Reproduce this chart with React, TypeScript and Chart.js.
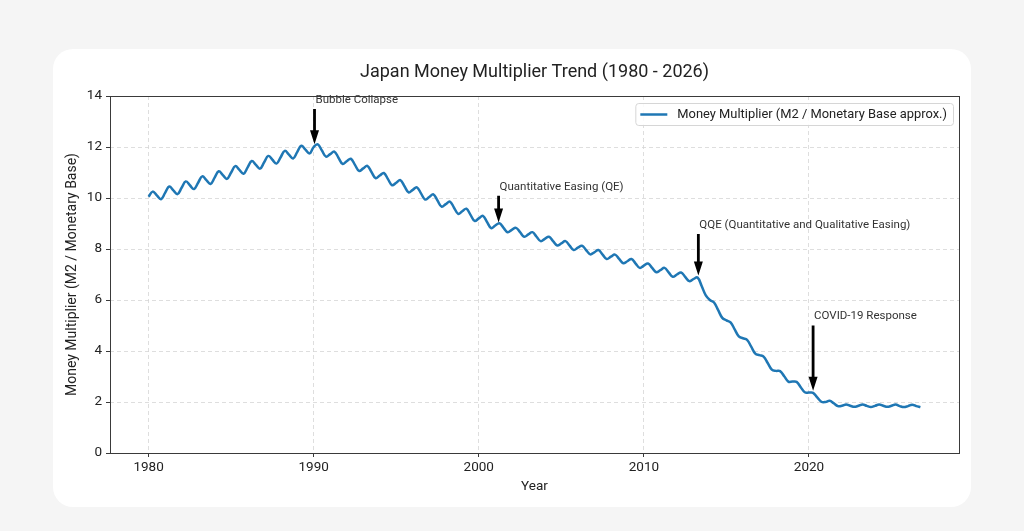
import React, { useEffect, useRef } from "react";
import { Chart, registerables } from "chart.js";

Chart.register(...registerables);

const chartTitle = "Japan Money Multiplier Trend (1980 - 2026)";
const seriesLabel = "Money Multiplier (M2 / Monetary Base approx.)";
const xAxisTitle = "Year";
const yAxisTitle = "Money Multiplier (M2 / Monetary Base)";

// quarterly readings, starting 1980.00, step 0.25 year
const startYear = 1980;
const stepYears = 0.25;

const values1980s = [
  10.05, 10.25, 10.1, 9.95,
  10.2, 10.45, 10.3, 10.15,
  10.4, 10.65, 10.5, 10.35,
  10.6, 10.85, 10.7, 10.55,
  10.8, 11.05, 10.9, 10.75,
  11.0, 11.25, 11.1, 10.95,
  11.2, 11.45, 11.3, 11.15,
  11.4, 11.65, 11.5, 11.35,
  11.6, 11.85, 11.7, 11.55,
  11.8, 12.05, 11.9, 11.75,
];

const values1990s = [
  12.0, 12.1, 11.86, 11.62,
  11.72, 11.82, 11.58, 11.34,
  11.44, 11.54, 11.3, 11.06,
  11.16, 11.26, 11.02, 10.78,
  10.88, 10.98, 10.74, 10.5,
  10.6, 10.7, 10.46, 10.22,
  10.32, 10.42, 10.18, 9.94,
  10.04, 10.14, 9.9, 9.66,
  9.76, 9.86, 9.62, 9.38,
  9.48, 9.58, 9.34, 9.1,
];

const values2000s = [
  9.2, 9.3, 9.06, 8.82,
  8.92, 9.01, 8.83, 8.66,
  8.75, 8.83, 8.66, 8.48,
  8.57, 8.66, 8.48, 8.31,
  8.4, 8.48, 8.31, 8.14,
  8.22, 8.31, 8.13, 7.96,
  8.05, 8.13, 7.96, 7.79,
  7.87, 7.96, 7.78, 7.61,
  7.7, 7.78, 7.61, 7.44,
  7.52, 7.61, 7.43, 7.26,
];

const values2010s = [
  7.35, 7.43, 7.26, 7.09,
  7.17, 7.26, 7.08, 6.91,
  7.0, 7.08, 6.91, 6.74,
  6.82, 6.88, 6.55, 6.18,
  6.0, 5.9, 5.6, 5.3,
  5.2, 5.12, 4.85, 4.57,
  4.5, 4.44, 4.17, 3.9,
  3.84, 3.78, 3.53, 3.27,
  3.22, 3.21, 3.01, 2.8,
  2.8, 2.79, 2.58, 2.38,
];

const values2020s = [
  2.37, 2.36, 2.18, 2.01,
  2.0, 2.05, 1.95, 1.84,
  1.85, 1.9, 1.85, 1.81,
  1.85, 1.9, 1.85, 1.8,
  1.85, 1.9, 1.85, 1.81,
  1.85, 1.9, 1.84, 1.8,
  1.84, 1.89, 1.84, 1.8,
];

const multiplier = [
  ...values1980s,
  ...values1990s,
  ...values2000s,
  ...values2010s,
  ...values2020s,
];
const years = multiplier.map((_, i) => startYear + i * stepYears);

const xTickYears = [1980, 1990, 2000, 2010, 2020];
const yTickValues = [0, 2, 4, 6, 8, 10, 12, 14];

const annotationLabels = [
  "Bubble Collapse",
  "Quantitative Easing (QE)",
  "QQE (Quantitative and Qualitative Easing)",
  "COVID-19 Response",
];
const annotationYears = [1990.05, 2001.2, 2013.3, 2020.25];
const annotationValues = [12.03, 8.96, 6.88, 2.36];
const annotationTextValues = [13.84, 10.44, 8.94, 5.35];

const FONT = "Roboto, 'DejaVu Sans', sans-serif";
const LINE_COLOR = "#1f77b4";

function drawArrow(ctx: CanvasRenderingContext2D, x: number, y0: number, y1: number) {
  const sw = 2.8;
  const hw = 9;
  const hl = 14;
  ctx.beginPath();
  ctx.moveTo(x - sw / 2, y0);
  ctx.lineTo(x - sw / 2, y1 - hl);
  ctx.lineTo(x - hw / 2, y1 - hl);
  ctx.lineTo(x, y1);
  ctx.lineTo(x + hw / 2, y1 - hl);
  ctx.lineTo(x + sw / 2, y1 - hl);
  ctx.lineTo(x + sw / 2, y0);
  ctx.closePath();
  ctx.fillStyle = "#000";
  ctx.fill();
}

const decorPlugin = {
  id: "decor",
  afterDatasetsDraw(chart: any) {
    const { ctx, chartArea, scales } = chart;
    const xs = scales.x;
    const ys = scales.y;
    const { left, right, top, bottom } = chartArea;
    ctx.save();

    // frame (spines)
    ctx.strokeStyle = "#3a3a3a";
    ctx.lineWidth = 1;
    ctx.setLineDash([]);
    ctx.strokeRect(Math.round(left) + 0.5, Math.round(top) + 0.5, Math.round(right - left), Math.round(bottom - top));

    // annotations
    ctx.font = `11.5px ${FONT}`;
    ctx.textAlign = "left";
    ctx.textBaseline = "middle";
    annotationLabels.forEach((label, i) => {
      const px = xs.getPixelForValue(annotationYears[i]);
      const py = ys.getPixelForValue(annotationValues[i]);
      const ty = ys.getPixelForValue(annotationTextValues[i]);
      drawArrow(ctx, px, ty + 9, py - 2);
      ctx.fillStyle = "#333";
      ctx.fillText(label, px + 1, ty);
    });

    // legend
    const ds = chart.data.datasets[0];
    ctx.font = `12.9px ${FONT}`;
    const textW = ctx.measureText(ds.label).width;
    const boxRight = right - 6;
    const boxTop = top + 7;
    const boxH = 22;
    const boxW = textW + 48;
    const boxLeft = boxRight - boxW;
    ctx.beginPath();
    ctx.roundRect(boxLeft + 0.5, boxTop + 0.5, boxW, boxH, 3);
    ctx.fillStyle = "rgba(255,255,255,0.85)";
    ctx.fill();
    ctx.strokeStyle = "#d6d6d6";
    ctx.lineWidth = 1;
    ctx.stroke();
    const cy = boxTop + boxH / 2 + 0.5;
    ctx.beginPath();
    ctx.moveTo(boxLeft + 5, cy);
    ctx.lineTo(boxLeft + 32, cy);
    ctx.strokeStyle = ds.borderColor;
    ctx.lineWidth = 2.5;
    ctx.stroke();
    ctx.fillStyle = "#222";
    ctx.textAlign = "left";
    ctx.textBaseline = "middle";
    ctx.fillText(ds.label, boxLeft + 42, cy);

    // title
    ctx.font = `18px ${FONT}`;
    ctx.textAlign = "center";
    ctx.textBaseline = "middle";
    ctx.fillStyle = "#222";
    ctx.fillText(chartTitle, (left + right) / 2, top - 24);

    ctx.restore();
  },
};

export default function App() {
  const ref = useRef<HTMLCanvasElement | null>(null);

  useEffect(() => {
    if (!ref.current) return;
    Chart.defaults.font.family = FONT;
    const span = years[years.length - 1] - years[0];
    const xMin = years[0] - span * 0.05;
    const xMax = years[years.length - 1] + span * 0.05;

    const gridOpts = {
      color: "#d6d6d6",
      lineWidth: 0.8,
      tickLength: 4,
      tickColor: "#3a3a3a",
      tickWidth: 1,
      tickBorderDash: [],
    };

    const chart = new Chart(ref.current, {
      type: "line",
      data: {
        datasets: [
          {
            label: seriesLabel,
            data: years.map((x, i) => ({ x, y: multiplier[i] })),
            borderColor: LINE_COLOR,
            backgroundColor: LINE_COLOR,
            borderWidth: 2.5,
            tension: 0.4,
            pointRadius: 0,
            fill: false,
          },
        ],
      },
      options: {
        responsive: false,
        animation: false,
        layout: { padding: { left: 64, right: 65, top: 96, bottom: 36 } },
        plugins: {
          legend: { display: false },
          title: { display: false },
          tooltip: { enabled: false },
        },
        scales: {
          x: {
            type: "linear",
            min: xMin,
            max: xMax,
            afterBuildTicks: (s: any) => {
              s.ticks = xTickYears.map((v) => ({ value: v }));
            },
            afterFit: (s: any) => {
              s.height = 42;
            },
            ticks: {
              callback: (v: any) => String(v),
              font: { size: 13.5 },
              color: "#222",
              padding: 3,
              maxRotation: 0,
              autoSkip: false,
            },
            grid: gridOpts,
            border: { display: false, dash: [4, 3] },
            title: {
              display: true,
              text: xAxisTitle,
              font: { size: 13.5 },
              color: "#222",
              padding: 0,
            },
          },
          y: {
            type: "linear",
            min: 0,
            max: 14,
            afterBuildTicks: (s: any) => {
              s.ticks = yTickValues.map((v) => ({ value: v }));
            },
            afterFit: (s: any) => {
              s.width = 46;
            },
            ticks: {
              callback: (v: any) => String(v),
              font: { size: 13.5 },
              color: "#222",
              padding: 4,
              autoSkip: false,
            },
            grid: gridOpts,
            border: { display: false, dash: [4, 3] },
            title: {
              display: true,
              text: yAxisTitle,
              font: { size: 14 },
              color: "#222",
              padding: 0,
            },
          },
        },
      } as any,
      plugins: [decorPlugin],
    });
    return () => chart.destroy();
  }, []);

  return (
    <div
      style={{
        position: "fixed",
        left: 0,
        top: 0,
        width: 1024,
        height: 531,
        background: "#f5f5f5",
        overflow: "hidden",
      }}
    >
      <div
        style={{
          position: "absolute",
          left: 53,
          top: 49,
          width: 918,
          height: 458,
          background: "#ffffff",
          borderRadius: 20,
        }}
      />
      <canvas
        ref={ref}
        width={1024}
        height={531}
        style={{ position: "absolute", left: 0, top: 0, width: 1024, height: 531 }}
      />
    </div>
  );
}
